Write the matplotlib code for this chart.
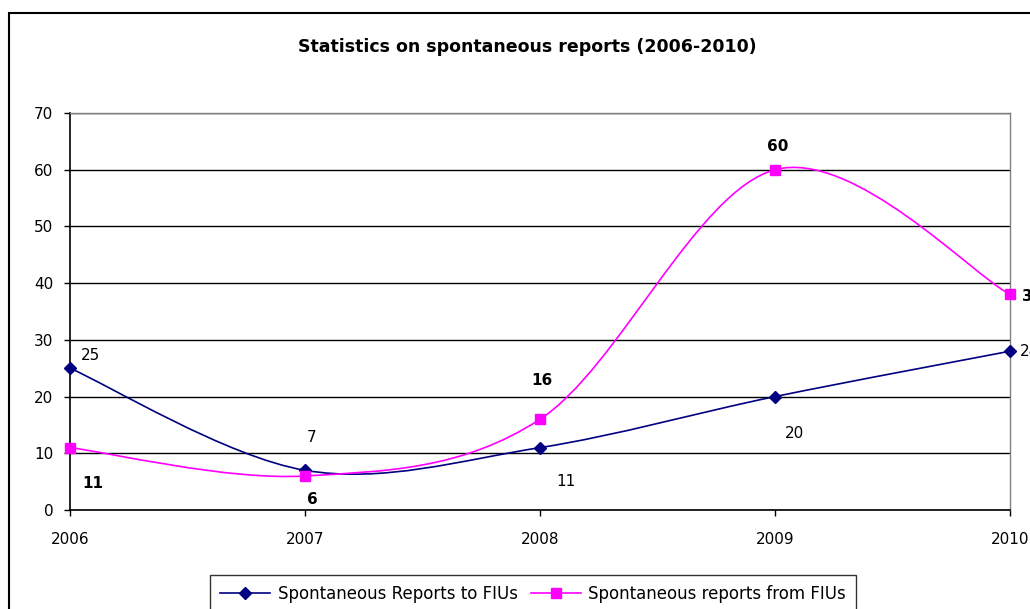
import matplotlib
matplotlib.use("Agg")
from matplotlib import pyplot as plt
from matplotlib.path import Path
from matplotlib.patches import PathPatch, Rectangle
from matplotlib.lines import Line2D

plt.rcParams['font.family'] = ['DejaVu Sans']

years = ['2006', '2007', '2008', '2009', '2010']
reports_to_fius = [25, 7, 11, 20, 28]
reports_from_fius = [11, 6, 16, 60, 38]

BLUE = '#000080'
PINK = '#FF00FF'
FS = 11


def smooth_path(xs, ys):
    # bezier segments like a spreadsheet "smoothed line"
    verts = [(xs[0], ys[0])]
    codes = [Path.MOVETO]
    n = len(xs)
    for i in range(n - 1):
        x0, y0 = (xs[i - 1], ys[i - 1]) if i > 0 else (xs[i], ys[i])
        x1, y1 = xs[i], ys[i]
        x2, y2 = xs[i + 1], ys[i + 1]
        x3, y3 = (xs[i + 2], ys[i + 2]) if i + 2 < n else (xs[i + 1], ys[i + 1])
        c1 = (x1 + (x2 - x0) / 6, y1 + (y2 - y0) / 6)
        c2 = (x2 - (x3 - x1) / 6, y2 - (y3 - y1) / 6)
        verts += [c1, c2, (x2, y2)]
        codes += [Path.CURVE4] * 3
    return Path(verts, codes)


fig = plt.figure(figsize=(10.3, 6.09), dpi=100)
ax = fig.add_axes([70 / 1030, 1 - 510 / 609, 940 / 1030, 397 / 609])

xs = list(range(len(years)))

for ys, col in [(reports_to_fius, BLUE), (reports_from_fius, PINK)]:
    ax.add_patch(PathPatch(smooth_path(xs, ys), facecolor='none',
                           edgecolor=col, lw=1.2, zorder=3))

ax.plot(xs, reports_to_fius, ls='none', marker='D', ms=6.5, color=BLUE, zorder=4, clip_on=False)
ax.plot(xs, reports_from_fius, ls='none', marker='s', ms=7, color=PINK, zorder=4, clip_on=False)

# value labels
blue_off = [(20, 13), (7, 33), (26, -34), (20, -37), (10, 0)]
pink_off = [(23, -36), (7, -24), (2, 39), (3, 23), (12, -2)]
for i, v in enumerate(reports_to_fius):
    ha = 'left' if i == len(xs) - 1 else 'center'
    ax.annotate(str(v), (xs[i], v), xytext=blue_off[i], textcoords='offset pixels',
                ha=ha, va='center', fontsize=FS, color='black', annotation_clip=False)
for i, v in enumerate(reports_from_fius):
    ha = 'left' if i == len(xs) - 1 else 'center'
    ax.annotate(str(v), (xs[i], v), xytext=pink_off[i], textcoords='offset pixels',
                ha=ha, va='center', fontsize=FS, fontweight='bold', color='black',
                annotation_clip=False)

ax.set_xlim(0, 4)
ax.set_ylim(0, 70)
ax.set_xticks(xs)
ax.set_xticklabels(years)
ax.set_yticks(range(0, 71, 10))
ax.tick_params(axis='x', direction='out', length=4, width=1, pad=12, labelsize=FS)
ax.tick_params(axis='y', direction='out', length=4, width=1, pad=8, labelsize=FS)
ax.yaxis.grid(True, color='black', lw=1)
ax.set_axisbelow(True)
for s in ['top', 'right']:
    ax.spines[s].set_color('#808080')
    ax.spines[s].set_linewidth(1)
for s in ['left', 'bottom']:
    ax.spines[s].set_color('black')
    ax.spines[s].set_linewidth(1.2)

fig.text(527 / 1030, 1 - 47 / 609, 'Statistics on spontaneous reports (2006-2010)',
         ha='center', va='center', fontsize=12.5, fontweight='bold')

handles = [
    Line2D([], [], color=BLUE, lw=1.2, marker='D', ms=6.5, label='Spontaneous Reports to FIUs'),
    Line2D([], [], color=PINK, lw=1.2, marker='s', ms=6.5, label='Spontaneous reports from FIUs'),
]
leg = fig.legend(handles=handles, loc='upper left', bbox_to_anchor=(210 / 1030, 1 - 575 / 609),
                 ncol=2, fontsize=12, frameon=True, fancybox=False, borderpad=0.6,
                 handlelength=3.0, handletextpad=0.45, columnspacing=0.8, borderaxespad=0)
leg.get_frame().set_edgecolor('black')
leg.get_frame().set_linewidth(1)

# outer chart frame, runs off the right and bottom edges
fig.patches.append(Rectangle((9 / 1030, -0.2), 1.2, 1.2 - 13 / 609, transform=fig.transFigure,
                             fill=False, edgecolor='black', lw=1.5))

fig.savefig('out.png', dpi=100)
